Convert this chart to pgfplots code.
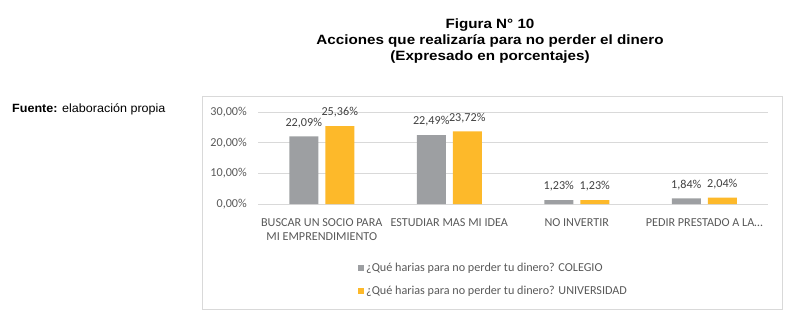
\documentclass[border=0pt]{standalone}
\usepackage{pgfplots}
\pgfplotsset{compat=1.18}
\usepackage{fontspec}
\setmainfont{Carlito}
\newfontfamily\arial{Liberation Sans}
\definecolor{barGray}{HTML}{9D9FA2}
\definecolor{barGold}{HTML}{FDB92A}
\definecolor{txtGray}{HTML}{595959}
\definecolor{lblGray}{HTML}{404040}
\definecolor{gridGray}{HTML}{D9D9D9}
\begin{document}
\begin{tikzpicture}[x=1bp,y=1bp]
\path[use as bounding box] (0,0) rectangle (792,315);
% titles
\tikzset{ttl/.style={anchor=base, inner sep=0pt, xscale=1.13, font=\arial\bfseries\fontsize{13.5}{16}\selectfont}}
\node[ttl] at (490,287) {Figura N° 10};
\node[ttl] at (490,271) {Acciones que realizaría para no perder el dinero};
\node[ttl] at (490,255) {(Expresado en porcentajes)};
\node[anchor=base west, inner sep=0pt, xscale=1.05, font=\arial\fontsize{12}{14}\selectfont] at (12,202.7) {\textbf{Fuente:} elaboración propia};
% chart frame
\draw[gridGray, line width=0.8bp] (202,6) rectangle (782,219);
\begin{axis}[
  at={(258bp,111bp)}, anchor=south west,
  scale only axis, width=510bp, height=92bp,
  xmin=-0.5, xmax=3.5, ymin=0, ymax=30,
  clip=false,
  axis line style={draw=none},
  major tick length=0pt,
  ymajorgrids, grid style={gridGray, line width=0.8bp},
  ytick={0,10,20,30},
  yticklabels={{0,00\%},{10,00\%},{20,00\%},{30,00\%}},
  yticklabel style={inner sep=0pt, xshift=-11bp, font=\fontsize{12.2}{14}\selectfont, text=txtGray},
  xtick={0,1,2,3},
  xticklabels={{BUSCAR UN SOCIO PARA\\MI EMPRENDIMIENTO},{ESTUDIAR MAS MI IDEA},{NO INVERTIR},{PEDIR PRESTADO A LA…}},
  xticklabel style={inner sep=0pt, yshift=-14.3bp, align=center, font=\fontsize{12.2}{14.3}\selectfont, text=txtGray},
  ybar, bar width=29bp,
  /pgf/number format/assume math mode=true,
  nodes near coords={\pgfmathprintnumber[fixed,zerofill,precision=2,use comma,assume math mode=true]{\pgfplotspointmeta}\%},
  every node near coord/.append style={inner sep=0pt, yshift=8.5bp, font=\fontsize{12.2}{14}\selectfont, text=lblGray},
  legend cell align=left,
  legend columns=1,
  legend style={at={(0.196,-0.617)}, anchor=north west, draw=none, fill=none, inner sep=0pt,
    row sep=9.5bp, font=\fontsize{12.2}{14}\selectfont, text=txtGray, nodes={inner sep=2bp}},
  legend image code/.code={\fill[#1] (0bp,-3bp) rectangle (6bp,3bp);},
]
\addplot[fill=barGray, draw=none, bar shift=-18bp] coordinates {(0,22.09) (1,22.49) (2,1.23) (3,1.84)};
\addplot[fill=barGold, draw=none, bar shift=18bp] coordinates {(0,25.36) (1,23.72) (2,1.23) (3,2.04)};
\legend{¿Qué harias para no perder tu dinero? COLEGIO, ¿Qué harias para no perder tu dinero? UNIVERSIDAD}
\end{axis}
\end{tikzpicture}
\end{document}
